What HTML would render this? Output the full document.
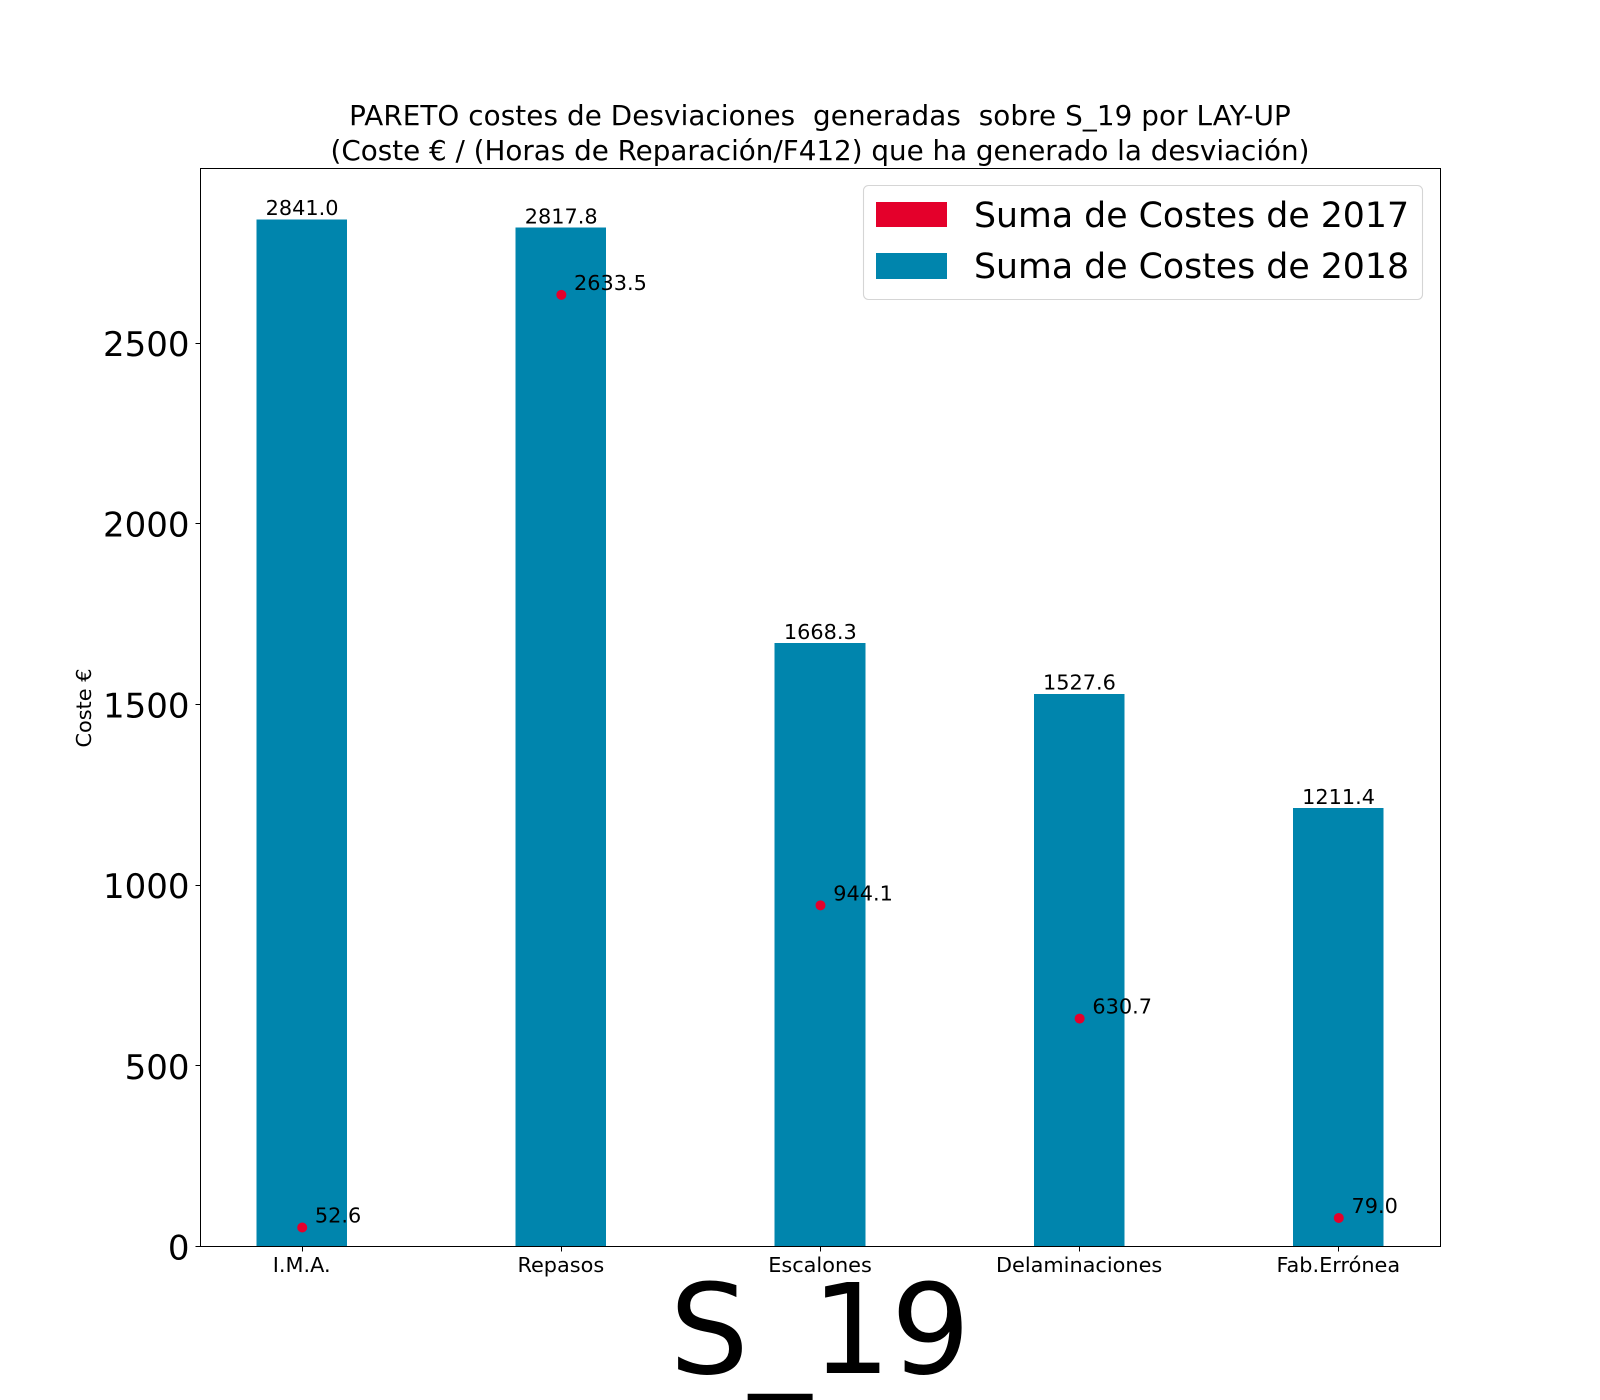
<!DOCTYPE html>
<html lang="es">
<head>
<meta charset="utf-8">
<title>PARETO costes de Desviaciones S_19</title>
<style>
html,body{margin:0;padding:0;background:#fff;width:1600px;height:1400px;overflow:hidden}
svg{display:block}
text{font-family:"DejaVu Sans","Liberation Sans",sans-serif;fill:#000}
</style>
</head>
<body>
<svg id="chart" xmlns="http://www.w3.org/2000/svg" width="1600" height="1400" viewBox="0 0 1600 1400">
  <rect x="0" y="0" width="1600" height="1400" fill="#ffffff"/>
  <g id="bars"></g>
  <g id="points"></g>
  <g id="xticks"></g>
  <g id="yticks"></g>
  <rect x="200.5" y="168.5" width="1240" height="1078" fill="none" stroke="#000" stroke-width="1" shape-rendering="crispEdges"/>
  <text x="820" y="125" font-size="27.78" text-anchor="middle" xml:space="preserve" letter-spacing="0.1">PARETO costes de Desviaciones  generadas  sobre S_19 por LAY-UP</text>
  <text x="820" y="160" font-size="27.78" text-anchor="middle">(Coste € / (Horas de Reparación/F412) que ha generado la desviación)</text>
  <text x="0" y="0" font-size="20.83" text-anchor="middle" transform="translate(91 708) rotate(-90)">Coste €</text>
  <text x="820" y="1373" font-size="125" text-anchor="middle">S_19</text>
  <g>
    <rect x="863.5" y="185.5" width="559" height="114" rx="5" ry="5" fill="#ffffff" fill-opacity="0.8" stroke="#d5d5d5" stroke-width="1.1"/>
    <rect x="876" y="202" width="71" height="25" fill="#E4002B"/>
    <text x="974" y="227" font-size="34.72">Suma de Costes de 2017</text>
    <rect x="876" y="253" width="71" height="26" fill="#0085AD"/>
    <text x="974" y="278" font-size="34.72">Suma de Costes de 2018</text>
  </g>
</svg>
<script>
var categories = ["I.M.A.", "Repasos", "Escalones", "Delaminaciones", "Fab.Errónea"];
var costes2018 = [2841.0, 2817.8, 1668.3, 1527.6, 1211.4];
var costes2017 = [52.6, 2633.5, 944.1, 630.7, 79.0];
var yTickValues = [0, 500, 1000, 1500, 2000, 2500];

var NS = "http://www.w3.org/2000/svg";
var plotLeft = 200, plotRight = 1440, plotTop = 168, plotBottom = 1246;
var barWidthUnits = 0.35;
var xPad = (categories.length - 1 + barWidthUnits) * 0.05 + barWidthUnits / 2;
var yMax = Math.max.apply(null, costes2018.concat(costes2017)) * 1.05;

function xScale(i) {
  return plotLeft + (i + xPad) / (categories.length - 1 + 2 * xPad) * (plotRight - plotLeft);
}
function yScale(v) {
  return plotBottom - v / yMax * (plotBottom - plotTop);
}
function make(tag, attrs, parent, txt) {
  var el = document.createElementNS(NS, tag);
  for (var k in attrs) { el.setAttribute(k, attrs[k]); }
  if (txt !== undefined) { el.textContent = txt; }
  parent.appendChild(el);
  return el;
}

var barsG = document.getElementById("bars");
var pointsG = document.getElementById("points");
var xG = document.getElementById("xticks");
var yG = document.getElementById("yticks");
var barPx = xScale(1) - xScale(0);
barPx = barPx * barWidthUnits;

categories.forEach(function (cat, i) {
  var cx = xScale(i);
  var top = yScale(costes2018[i]);
  var bar = make("rect", {x: cx - barPx / 2, y: top, width: barPx, height: plotBottom - top, fill: "#0085AD", "shape-rendering": "crispEdges"}, barsG);
  
  
  var barLabel = make("text", {x: cx + 0.3, y: top - 4.3, "font-size": 20.83, "text-anchor": "middle"}, barsG, costes2018[i].toFixed(1));
  
  
});

categories.forEach(function (cat, i) {
  var cx = xScale(i);
  var py = yScale(costes2017[i]);
  var dot = make("circle", {cx: cx + 0.5, cy: py + 0.5, r: 5, fill: "#E4002B"}, pointsG);
  
  
  var dotLabel = make("text", {x: cx + 13.2, y: py - 4.5, "font-size": 20.83}, pointsG, costes2017[i].toFixed(1));
  
  

  var tickX = Math.round(cx) + 0.5;
  var xTick = make("line", {x1: tickX, x2: tickX, y1: plotBottom + 0.5, y2: plotBottom + 5.5, stroke: "#000", "stroke-width": 1, "shape-rendering": "crispEdges"}, xG);
  
  
  var xLabel = make("text", {x: cx, y: 1272, "font-size": 20.83, "text-anchor": "middle"}, xG, cat);
  
  
});

yTickValues.forEach(function (v) {
  var ty = yScale(v);
  var tickY = Math.round(ty) + 0.5;
  var yTick = make("line", {x1: plotLeft - 4.5, x2: plotLeft + 0.5, y1: tickY, y2: tickY, stroke: "#000", "stroke-width": 1, "shape-rendering": "crispEdges"}, yG);
  
  
  var yLabel = make("text", {x: 189.5, y: ty + 13.5, "font-size": 34, "text-anchor": "end"}, yG, String(v));
  
  
});
</script>
</body>
</html>
